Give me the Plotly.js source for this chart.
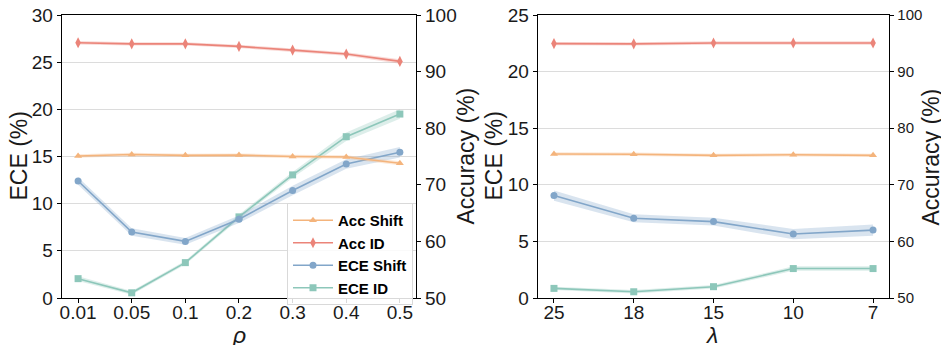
<!DOCTYPE html>
<html><head><meta charset="utf-8">
<script src="https://cdn.plot.ly/plotly-3.0.1.min.js"></script>
<style>html,body{margin:0;padding:0;background:#fff}</style>
</head><body><div id="chart" style="width:941px;height:345px"></div>
<script>
// Left panel (rho)
const rhoCats = ["0.01","0.05","0.1","0.2","0.3","0.4","0.5"];
const rhoAccShift = [75.1, 75.35, 75.2, 75.25, 75.0, 74.9, 73.8];
const rhoAccShiftStd = [0.3, 0.3, 0.3, 0.3, 0.3, 0.3, 0.35];
const rhoAccID = [95.1, 94.9, 94.9, 94.45, 93.8, 93.1, 91.8];
const rhoAccIDStd = [0.3, 0.3, 0.3, 0.3, 0.3, 0.3, 0.4];
const rhoEceShift = [12.4, 7.0, 6.0, 8.35, 11.4, 14.2, 15.45];
const rhoEceShiftStd = [0.4, 0.4, 0.35, 0.4, 0.5, 0.5, 0.55];
const rhoEceID = [2.05, 0.55, 3.75, 8.6, 13.05, 17.1, 19.5];
const rhoEceIDStd = [0.25, 0.2, 0.2, 0.25, 0.3, 0.45, 0.5];
// Right panel (lambda)
const lamCats = ["25","18","15","10","7"];
const lamAccShift = [75.45, 75.4, 75.2, 75.3, 75.2];
const lamAccShiftStd = [0.3, 0.3, 0.3, 0.3, 0.3];
const lamAccID = [94.95, 94.9, 95.05, 95.05, 95.05];
const lamAccIDStd = [0.3, 0.3, 0.3, 0.3, 0.3];
const lamEceShift = [9.05, 7.05, 6.75, 5.65, 6.0];
const lamEceShiftStd = [0.45, 0.35, 0.35, 0.45, 0.5];
const lamEceID = [0.85, 0.55, 1.0, 2.6, 2.6];
const lamEceIDStd = [0.15, 0.15, 0.15, 0.2, 0.2];

const seriesNames = ["Acc Shift","Acc ID","ECE Shift","ECE ID"];
const colors = ["#F4B47C","#EB8479","#82A6C9","#8DC7BA"];
const fills = ["rgba(244,180,124,0.3)","rgba(235,132,121,0.3)","rgba(130,166,201,0.3)","rgba(141,199,186,0.3)"];
const symbols = ["triangle-up","diamond-tall","circle","square"];

const traces = [];
function addSeries(cats, vals, std, idx, xa, ya, showLeg) {
  const up = vals.map((v,i)=>v+std[i]);
  const lo = vals.map((v,i)=>v-std[i]);
  traces.push({x: cats.concat(cats.slice().reverse()), y: up.concat(lo.slice().reverse()),
    type:"scatter", mode:"lines", fill:"toself", fillcolor: fills[idx], line:{width:0},
    hoverinfo:"skip", showlegend:false, xaxis:xa, yaxis:ya});
  traces.push({x: cats, y: vals, type:"scatter", mode:"lines+markers", name: seriesNames[idx],
    line:{color:colors[idx], width:1.6},
    marker:{symbol:symbols[idx], size: idx===1 ? 8 : 7, color:colors[idx]},
    showlegend: showLeg, legendrank: idx, xaxis:xa, yaxis:ya});
}
addSeries(rhoCats, rhoEceID, rhoEceIDStd, 3, "x", "y", true);
addSeries(rhoCats, rhoEceShift, rhoEceShiftStd, 2, "x", "y", true);
addSeries(rhoCats, rhoAccShift, rhoAccShiftStd, 0, "x", "y2", true);
addSeries(rhoCats, rhoAccID, rhoAccIDStd, 1, "x", "y2", true);
addSeries(lamCats, lamEceID, lamEceIDStd, 3, "x2", "y3", false);
addSeries(lamCats, lamEceShift, lamEceShiftStd, 2, "x2", "y3", false);
addSeries(lamCats, lamAccShift, lamAccShiftStd, 0, "x2", "y4", false);
addSeries(lamCats, lamAccID, lamAccIDStd, 1, "x2", "y4", false);

const F = "Liberation Sans, Arial, sans-serif";
const tc = "#1a1a1a";
function xax(domain, range, anchor) {
  return {domain: domain, anchor: anchor, type:"category", range: range,
    showline:true, linecolor:"#000", linewidth:1.3, mirror:true, ticks:"outside", ticklen:4, tickcolor:"#000",
    ticklabelstandoff:-7,
    showgrid:false, zeroline:false, tickfont:{family:F, size:19, color:tc}};
}
function yleft(range, dtick, anchor) {
  return {range: range, dtick: dtick, anchor: anchor, showline:true, linecolor:"#000", linewidth:1.3,
    ticks:"outside", ticklen:4, tickcolor:"#000", showgrid:true, gridcolor:"#dcdcdc", gridwidth:1.2,
    zeroline:false, tickfont:{family:F, size:19, color:tc}};
}
function yright(range, dtick, ov, anchor, fs) {
  return {range: range, dtick: dtick, overlaying: ov, anchor: anchor, side:"right", showline:true,
    linecolor:"#000", linewidth:1.3, ticks:"outside", ticklen:4, tickcolor:"#000", showgrid:false,
    zeroline:false, tickfont:{family:F, size:fs, color:tc}};
}

// title positions (pixel -> paper)
const L = 62, W = 827, T = 15, H = 283;
const px = v => (v - L) / W;
const py = v => (T + H - v) / H;
function ytitle(text, xpix) {
  return {text:text, xref:"paper", yref:"paper", x: px(xpix), y: py(156.5), xanchor:"center", yanchor:"middle",
    textangle:-90, showarrow:false, font:{family:F, size:23, color:tc}};
}
function xtitle(text, xpix) {
  return {text:text, xref:"paper", yref:"paper", x: px(xpix), y: py(335), xanchor:"center", yanchor:"middle",
    showarrow:false, font:{family:F, size:23, color:tc}};
}

const layout = {
  width:941, height:345, paper_bgcolor:"#fff", plot_bgcolor:"#fff",
  margin:{l:L, r:941 - L - W, t:T, b:345 - T - H},
  xaxis: xax([0, 0.428], [-0.3, 6.3], "y"),
  xaxis2: xax([0.5756, 1], [-0.2, 4.2], "y3"),
  yaxis: yleft([0,30], 5, "x"),
  yaxis2: yright([50,100], 10, "y", "x", 19),
  yaxis3: yleft([0,25], 5, "x2"),
  yaxis4: yright([50,100], 10, "y3", "x2", 15),
  annotations: [
    ytitle("ECE (%)", 18), ytitle("Accuracy (%)", 465),
    ytitle("ECE (%)", 493), ytitle("Accuracy (%)", 930),
    xtitle("<i>ρ</i>", 239), xtitle("<i>λ</i>", 711)
  ],
  showlegend:true,
  legend:{x:px(287), y:py(203), xanchor:"left", yanchor:"top", bgcolor:"rgba(255,255,255,0.85)",
    bordercolor:"#d9d9d9", borderwidth:1, font:{family:F, size:15, color:"#000", weight:"bold"},
    tracegroupgap:0, itemwidth:40, traceorder:"normal"}
};
Plotly.newPlot("chart", traces, layout, {displayModeBar:false, staticPlot:true});
</script></body></html>
